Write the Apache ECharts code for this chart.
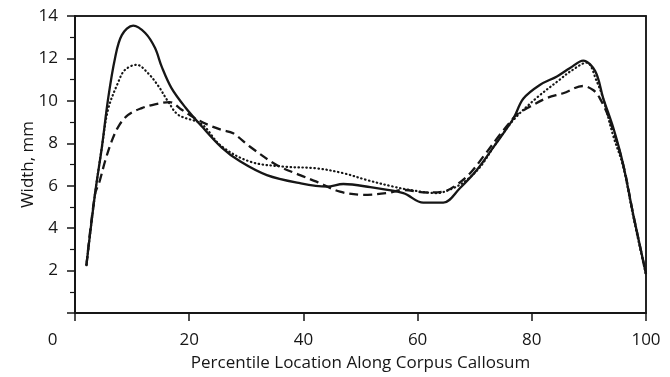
<!DOCTYPE html>
<html>
<head>
<meta charset="utf-8">
<script src="https://cdn.jsdelivr.net/npm/echarts@6/dist/echarts.min.js"></script>
<style>
  html, body { margin: 0; padding: 0; background: #fff; }
  #chart { width: 670px; height: 377px; }
</style>
</head>
<body>
<div id="chart"></div>
<script>
// percentile location (x) and width in mm (y)
const solidX = [2, 3.5, 4.7, 5.8, 7.0, 8.2, 10.2, 12.3, 14.0, 15.2, 16.9, 19.3, 22.2, 25.7, 28.9, 33.6, 39.4, 44.1, 47.0, 51.7, 57.5, 61.0, 64.5, 67.4, 70.4, 73.5, 76.8, 78.5, 81.4, 84.4, 86.7, 89.0, 91.1, 92.5, 94.3, 96.0, 97.8, 100];
const solidY = [2.25, 5.6, 7.8, 10.1, 12.0, 13.1, 13.55, 13.2, 12.5, 11.6, 10.6, 9.7, 8.8, 7.8, 7.15, 6.5, 6.12, 5.96, 6.08, 5.93, 5.65, 5.2, 5.2, 5.88, 6.75, 7.9, 9.18, 10.1, 10.75, 11.15, 11.55, 11.9, 11.4, 10.13, 8.7, 7.0, 4.6, 1.85];

const dottedX = [2, 3.5, 4.7, 5.8, 7.6, 8.75, 10.8, 12.8, 14.6, 16.3, 18.1, 22.2, 25.5, 30.6, 36.5, 42.3, 47.0, 51.1, 55.7, 58.7, 63.3, 66.2, 68.6, 71.0, 73.5, 76.8, 80.8, 84.9, 86.7, 89.6, 91.4, 92.5, 94.2, 96.0, 97.8, 100];
const dottedY = [2.25, 5.6, 7.8, 9.6, 10.9, 11.46, 11.7, 11.3, 10.7, 9.97, 9.34, 8.9, 7.9, 7.14, 6.9, 6.82, 6.59, 6.27, 5.96, 5.8, 5.65, 5.88, 6.27, 6.9, 7.9, 9.1, 10.13, 11.0, 11.38, 11.8, 10.9, 10.1, 8.4, 6.9, 4.5, 1.8];

const dashedX = [2, 3.5, 4.3, 5.25, 6.4, 7.6, 9.3, 11.7, 14.0, 16.6, 18.7, 21.0, 23.3, 25.7, 27.7, 30.6, 35.3, 39.4, 42.3, 46.4, 50.5, 54.6, 57.5, 61.6, 64.5, 66.8, 69.2, 71.5, 74.4, 76.2, 77.3, 79.7, 82.6, 85.5, 89.0, 90.8, 91.9, 93.5, 96.0, 97.8, 100];
const dashedY = [2.25, 5.6, 6.2, 7.14, 8.08, 8.79, 9.34, 9.66, 9.84, 9.94, 9.58, 9.18, 8.87, 8.63, 8.47, 7.85, 6.98, 6.5, 6.19, 5.72, 5.57, 5.65, 5.8, 5.68, 5.72, 6.04, 6.59, 7.37, 8.4, 9.0, 9.34, 9.73, 10.13, 10.36, 10.7, 10.5, 10.13, 9.2, 7.0, 4.6, 1.85];

const xTicks = [0, 20, 40, 60, 80, 100];
const yTicks = [0, 2, 4, 6, 8, 10, 12, 14];

const zip = (xs, ys) => xs.map((x, i) => [x, ys[i]]);

const ink = '#161616';
const font = '"Open Sans", "Noto Sans", sans-serif';

// plain frame line for the top and right edges
const frame = {
  type: 'value', min: 0, max: 1,
  axisLine: { show: true, onZero: false, lineStyle: { color: ink, width: 1.5 } },
  axisTick: { show: false }, axisLabel: { show: false }, splitLine: { show: false }
};

const chart = echarts.init(document.getElementById('chart'));
chart.setOption({
  animation: false,
  backgroundColor: '#fff',
  grid: {
    left: 75, right: 24, top: 16, bottom: 64,
    show: true, borderColor: ink, borderWidth: 1.5
  },
  xAxis: [{
    type: 'value',
    min: xTicks[0],
    max: xTicks[xTicks.length - 1],
    interval: 20,
    name: 'Percentile Location Along Corpus Callosum',
    nameLocation: 'middle',
    nameGap: 42,
    nameMoveOverlap: false,
    nameTextStyle: { color: ink, fontFamily: font, fontSize: 17 },
    splitLine: { show: false },
    axisLine: { onZero: false, lineStyle: { color: ink, width: 2 } },
    axisTick: { length: 8, lineStyle: { color: ink, width: 1.5 } },
    axisLabel: {
      color: ink, fontFamily: font, fontSize: 17, margin: 19,
      formatter: v => v === 0 ? '{z|0}' : String(v),
      rich: { z: { color: ink, fontFamily: font, fontSize: 17, padding: [0, 45, 0, 0] } }
    }
  }, { ...frame, position: 'top' }],
  yAxis: [{
    type: 'value',
    min: yTicks[0],
    max: yTicks[yTicks.length - 1],
    interval: 2,
    name: 'Width, mm',
    nameLocation: 'middle',
    nameGap: 38,
    nameMoveOverlap: false,
    nameTextStyle: { color: ink, fontFamily: font, fontSize: 17 },
    splitLine: { show: false },
    axisLine: { show: true, onZero: false, lineStyle: { color: ink, width: 2 } },
    axisTick: { length: 8, lineStyle: { color: ink, width: 1.5 } },
    minorTick: { show: true, splitNumber: 2, length: 5, lineStyle: { color: ink, width: 1.2 } },
    axisLabel: {
      color: ink, fontFamily: font, fontSize: 17, margin: 17,
      formatter: v => v === 0 ? '' : String(v)
    }
  }, { ...frame, position: 'right' }],
  series: [
    {
      name: 'solid', type: 'line', smooth: 0.35, symbol: 'none',
      data: zip(solidX, solidY),
      lineStyle: { color: ink, width: 2.3 }
    },
    {
      name: 'dotted', type: 'line', smooth: 0.35, symbol: 'none',
      data: zip(dottedX, dottedY),
      lineStyle: { color: ink, width: 2.2, type: [0.5, 3.5], cap: 'round' }
    },
    {
      name: 'dashed', type: 'line', smooth: 0.35, symbol: 'none',
      data: zip(dashedX, dashedY),
      lineStyle: { color: ink, width: 2.3, type: [9, 5] }
    },
    // empty series so the frame axes are laid out
    { name: 'frame', type: 'line', xAxisIndex: 1, yAxisIndex: 1, data: [], silent: true }
  ]
});
</script>
</body>
</html>
